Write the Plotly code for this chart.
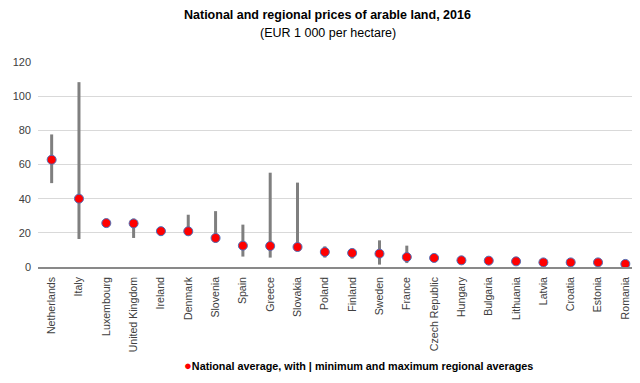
import plotly.graph_objects as go

countries = ["Netherlands", "Italy", "Luxembourg", "United Kingdom", "Ireland", "Denmark",
             "Slovenia", "Spain", "Greece", "Slovakia", "Poland", "Finland", "Sweden",
             "France", "Czech Republic", "Hungary", "Bulgaria", "Lithuania", "Latvia",
             "Croatia", "Estonia", "Romania"]
national_avg = [62.8, 40.0, 25.7, 25.5, 21.0, 20.9, 17.0, 12.5, 12.3, 11.7, 8.8, 8.2, 7.8,
                5.8, 5.3, 3.9, 3.7, 3.3, 2.7, 2.7, 2.7, 1.8]
regional_min = [49.1, 16.4, 25.7, 17.0, 18.1, 18.5, 14.3, 6.1, 5.5, 10.5, 5.5, 4.9, 1.4,
                2.3, 4.6, 3.9, 3.0, 3.3, 2.7, 2.7, 2.7, 1.8]
regional_max = [77.6, 108.2, 25.7, 28.3, 22.6, 30.6, 32.7, 24.8, 55.2, 49.4, 12.1, 10.7, 15.6,
                12.5, 6.2, 3.9, 4.6, 3.3, 2.7, 2.7, 2.7, 1.8]
y_ticks = [0, 20, 40, 60, 80, 100, 120]

err_plus = [mx - m for mx, m in zip(regional_max, national_avg)]
err_minus = [m - mn for mn, m in zip(regional_min, national_avg)]

font = "Liberation Sans, Arial, sans-serif"

# page body has an 8px margin; figure is sized/offset to compensate
W, H = 632, 375
ML, MR, MT, MB = 30, 1, 54, 116
ph = H - MT - MB
pw = W - ML - MR

def py(page_y):
    # page pixel y -> paper coordinate
    return 1 - (page_y - 8 - MT) / ph

def px(page_x):
    return (page_x - 8 - ML) / pw

fig = go.Figure()
fig.add_trace(go.Scatter(
    x=countries, y=national_avg, mode="markers",
    marker=dict(color="#FF0000", size=9, line=dict(color="#4F6FB8", width=1)),
    error_y=dict(type="data", symmetric=False, array=err_plus, arrayminus=err_minus,
                 color="#7F7F7F", thickness=3, width=0),
    showlegend=False,
    name="National average"
))

fig.update_layout(
    width=W, height=H,
    margin=dict(l=ML, r=MR, t=MT, b=MB),
    paper_bgcolor="white", plot_bgcolor="white",
    font=dict(family=font, size=11, color="#404040"),
    xaxis=dict(showgrid=False, tickangle=-90, tickfont=dict(size=10.6, color="#404040"),
               showline=True, linecolor="#898989", linewidth=1.5, ticks="",
               ticklabelstandoff=4,
               range=[-0.5, len(countries) - 0.5], automargin=False),
    yaxis=dict(range=[0, 120], tickvals=y_ticks, showgrid=True, gridcolor="#D9D9D9",
               gridwidth=1, zeroline=False, showline=False, ticks="",
               tickfont=dict(size=11, color="#404040"), ticklabelstandoff=6,
               automargin=False),
    annotations=[
        dict(text="<b>National and regional prices of arable land, 2016</b>", x=px(327.5), xref="paper",
             y=py(15), yref="paper", yanchor="middle", showarrow=False,
             font=dict(size=12.5, color="#000000")),
        dict(text="(EUR 1 000 per hectare)", x=px(327.5), xref="paper", y=py(33), yref="paper",
             yanchor="middle", showarrow=False, font=dict(size=12.5, color="#000000")),
        dict(text='<span style="color:#FF0000;font-size:13px">●</span><b>National average, with | minimum and maximum regional averages</b>',
             x=px(358.5), xref="paper", y=py(365), yref="paper", yanchor="middle", showarrow=False,
             font=dict(size=10.8, color="#000000")),
    ],
)

fig.write_html("out.html")
